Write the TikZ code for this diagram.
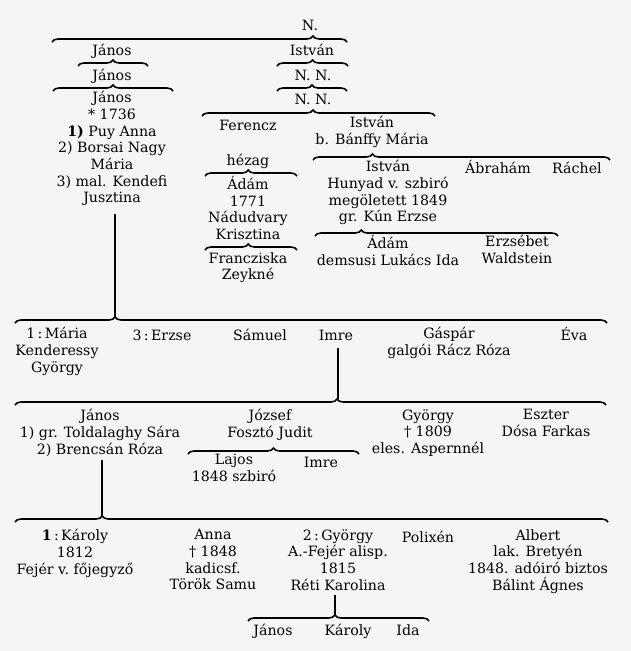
\documentclass[tikz,border=0pt]{standalone}
\usepackage{fontspec}
\setmainfont{DejaVu Serif}
\usetikzlibrary{decorations.pathreplacing}

\begin{document}
\begin{tikzpicture}[x=1pt,y=-1pt,
  person/.style={anchor=north,align=center,inner sep=0pt,yshift=7.8pt,
                 font=\fontsize{14.2}{16.7}\selectfont,
                 execute at begin node={\vphantom{Á}}},
  family/.style={decorate,decoration={brace,amplitude=6pt,aspect=#1},line width=1.6pt},
  family/.default=0.5,
  descent/.style={line width=1.7pt}
]
\fill[black!4] (0,0) rectangle (631,651);
\useasboundingbox (0,0) rectangle (631,651);

% ===== ANCESTORS =====
\node[person] (n0) at (310,25) {N.};
\draw[family=0.885] (52,42) -- (347,42);

\node[person] (janos1) at (112,50) {János};
\node[person] (istvan1) at (312,50) {István};
\draw[family] (78,66) -- (148,66);
\draw[family] (277,66) -- (348,66);

\node[person] (janos2) at (112,75) {János};
\node[person] (nn1) at (313,75) {N. N.};
\draw[family] (53,91) -- (173,91);
\draw[family] (277,91) -- (347,91);

\node[person] (janos3) at (112,99) {János\\* 1736\\\textbf{1)} Puy Anna\\2) Borsai Nagy\\Mária\\3) mal. Kendefi\\Jusztina};
\node[person] (nn2) at (313,99) {N. N.};
\draw[family=0.476] (202,116) -- (435,116);

% ===== FERENCZ BRANCH =====
\node[person] (ferencz) at (248,125) {Ferencz};
\node[person] (hezag) at (248,160) {hézag};
\draw[family=0.47] (205,176) -- (297,176);
\node[person] (adam1) at (248,184) {Ádám\\1771\\Nádudvary\\Krisztina};
\draw[family=0.47] (205,250) -- (297,250);
\node[person] (franc) at (248,260) {Francziska\\Zeykné};

% ===== ISTVÁN BRANCH =====
\node[person] (istvan2) at (372,124) {István\\b. Bánffy Mária};
\draw[family=0.2] (313,160) -- (610,160);
\node[person] (istvan3) at (388,168) {István\\Hunyad v. szbiró\\megöletett 1849\\gr. Kún Erzse};
\node[person] (abraham) at (498,168) {Ábrahám};
\node[person] (rachel) at (577,168) {Ráchel};
\draw[family=0.19] (315,236) -- (558,236);
\node[person] (adam2) at (388,243) {Ádám\\demsusi Lukács Ida};
\node[person] (erzsebet) at (517,243) {Erzsébet\\Waldstein};

% ===== CHILDREN OF JÁNOS =====
\coordinate (jtip) at (115,317);
\draw[descent] ([yshift=-8pt]janos3.south -| jtip) -- (jtip);
\draw[family=0.169] (15,323) -- (607,323);
\node[person] (maria) at (57,335) {1\,:\,Mária\\Kenderessy\\György};
\node[person] (erzse) at (162,335) {3\,:\,Erzse};
\node[person] (samuel) at (260,335) {Sámuel};
\node[person] (imre1) at (336,335) {Imre};
\node[person] (gaspar) at (449,335) {Gáspár\\galgói Rácz Róza};
\node[person] (eva) at (574,335) {Éva};

% ===== CHILDREN OF IMRE =====
\coordinate (itip) at (338,399);
\draw[descent] ([yshift=-7pt]imre1.south -| itip) -- (itip);
\draw[family=0.545] (15,405) -- (606,405);
\node[person] (janos4) at (100,417) {János\\1) gr. Toldalaghy Sára\\2) Brencsán Róza};
\node[person] (jozsef) at (270,417) {József\\Fosztó Judit};
\node[person] (gyorgy1) at (428,417) {György\\† 1809\\eles. Aspernnél};
\node[person] (eszter) at (546,417) {Eszter\\Dósa Farkas};
\draw[family] (188,454) -- (359,454);
\node[person] (lajos) at (234,462) {Lajos\\1848 szbiró};
\node[person] (imre2) at (321,462) {Imre};

% ===== CHILDREN OF JÁNOS (II) =====
\coordinate (ktip) at (102,516);
\draw[descent] ([yshift=-3pt]janos4.south -| ktip) -- (ktip);
\draw[family=0.147] (15,522) -- (608,522);
\node[person] (karoly1) at (75,537) {\textbf{1}\,:\,Károly\\1812\\Fejér v.\ főjegyző};
\node[person] (anna) at (213,537) {Anna\\† 1848\\kadicsf.\\Török Samu};
\node[person] (gyorgy2) at (338,537) {2\,:\,György\\A.-Fejér alisp.\\1815\\Réti Karolina};
\node[person] (polixen) at (428,537) {Polixén};
\node[person] (albert) at (538,537) {Albert\\lak. Bretyén\\1848. adóiró biztos\\Bálint Ágnes};

% ===== CHILDREN OF GYÖRGY =====
\coordinate (gtip) at (335,615);
\draw[descent] ([yshift=-4pt]gyorgy2.south -| gtip) -- (gtip);
\draw[family=0.48] (248,621) -- (429,621);
\node[person] (janos5) at (273,630) {János};
\node[person] (karoly2) at (348,630) {Károly};
\node[person] (ida) at (408,630) {Ida};

\end{tikzpicture}
\end{document}
